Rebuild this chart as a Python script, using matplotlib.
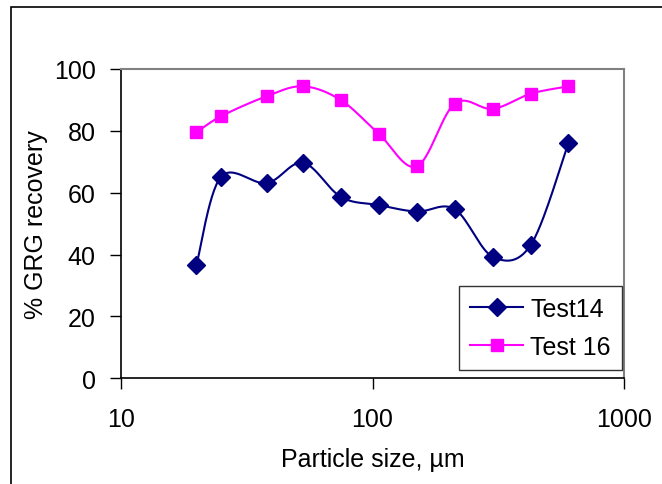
import numpy as np
import matplotlib
matplotlib.use("Agg")
import matplotlib.pyplot as plt
from matplotlib.patches import Rectangle

plt.rcParams['font.family'] = ['Liberation Sans', 'DejaVu Sans']

# particle sizes (um) and GRG recovery (%)
sizes = [20, 25, 38, 53, 75, 106, 150, 212, 300, 425, 600]
test14 = [36.7, 65.1, 63.1, 69.7, 58.6, 56.0, 53.9, 54.7, 39.3, 43.1, 76.1]
test16 = [79.5, 84.7, 91.2, 94.4, 89.9, 79.0, 68.5, 88.8, 87.1, 92.0, 94.4]


def smooth(xs, ys, n=30):
    # Excel-style smoothed line: Catmull-Rom through points in log-x space
    lx = np.log10(xs)
    y = np.asarray(ys, dtype=float)
    px = np.concatenate([[lx[0]], lx, [lx[-1]]])
    py = np.concatenate([[y[0]], y, [y[-1]]])
    outx, outy = [], []
    for i in range(1, len(px) - 2):
        t = np.linspace(0, 1, n)
        p0x, p1x, p2x, p3x = px[i - 1], px[i], px[i + 1], px[i + 2]
        p0y, p1y, p2y, p3y = py[i - 1], py[i], py[i + 1], py[i + 2]
        c1x, c1y = p1x + (p2x - p0x) / 6, p1y + (p2y - p0y) / 6
        c2x, c2y = p2x - (p3x - p1x) / 6, p2y - (p3y - p1y) / 6
        bx = (1 - t)**3 * p1x + 3 * (1 - t)**2 * t * c1x + 3 * (1 - t) * t**2 * c2x + t**3 * p2x
        by = (1 - t)**3 * p1y + 3 * (1 - t)**2 * t * c1y + 3 * (1 - t) * t**2 * c2y + t**3 * p2y
        outx.extend(bx)
        outy.extend(by)
    return 10**np.array(outx), np.array(outy)


fig = plt.figure(figsize=(6.62, 4.85), dpi=100)
ax = fig.add_axes([0.1823, 0.2179, 0.9431 - 0.1823, 0.8557 - 0.2179])

# outer frame (runs off the right and bottom edges)
fig.patches.append(Rectangle((11 / 662, -0.1), 1.2, 1 - 7.5 / 485 + 0.1,
                             transform=fig.transFigure, fill=False,
                             edgecolor='black', linewidth=1.2))

navy = '#000080'
magenta = '#FF00FF'

sx, sy = smooth(sizes, test14)
ax.plot(sx, sy, color=navy, lw=1.5)
ax.plot(sizes, test14, ls='none', marker='D', color=navy, markersize=9)
sx, sy = smooth(sizes, test16)
ax.plot(sx, sy, color=magenta, lw=1.5)
ax.plot(sizes, test16, ls='none', marker='s', color=magenta, markersize=8.5)

# legend proxies
ax.plot([], [], color=navy, lw=1.5, marker='D', markersize=9, label='Test14')
ax.plot([], [], color=magenta, lw=1.5, marker='s', markersize=8.5, label='Test 16')

ax.set_xscale('log')
ax.set_xlim(10, 1000)
ax.set_ylim(0, 100)
ax.set_yticks([0, 20, 40, 60, 80, 100])
ax.set_xticks([10, 100, 1000])
ax.set_xticklabels(['10', '100', '1000'])
ax.xaxis.set_minor_locator(matplotlib.ticker.NullLocator())
ax.tick_params(axis='both', labelsize=18, length=8, width=1, direction='out')
ax.tick_params(axis='y', pad=10)
ax.tick_params(axis='x', pad=13)

for s in ['top', 'right']:
    ax.spines[s].set_color('#808080')
    ax.spines[s].set_linewidth(1.5)
for s in ['left', 'bottom']:
    ax.spines[s].set_color('black')
    ax.spines[s].set_linewidth(1.2)

ax.set_xlabel('Particle size, µm', fontsize=18, labelpad=11)
ax.set_ylabel('% GRG recovery', fontsize=18, labelpad=4)

leg = ax.legend(loc='lower right', bbox_to_anchor=(0.9954, 0.027),
                fontsize=18, frameon=True, fancybox=False,
                edgecolor='black', borderaxespad=0, handlelength=2.1,
                labelspacing=0.55, borderpad=0.45, handletextpad=0.3)
leg.get_frame().set_linewidth(1.0)

fig.savefig('out.png', dpi=100)
